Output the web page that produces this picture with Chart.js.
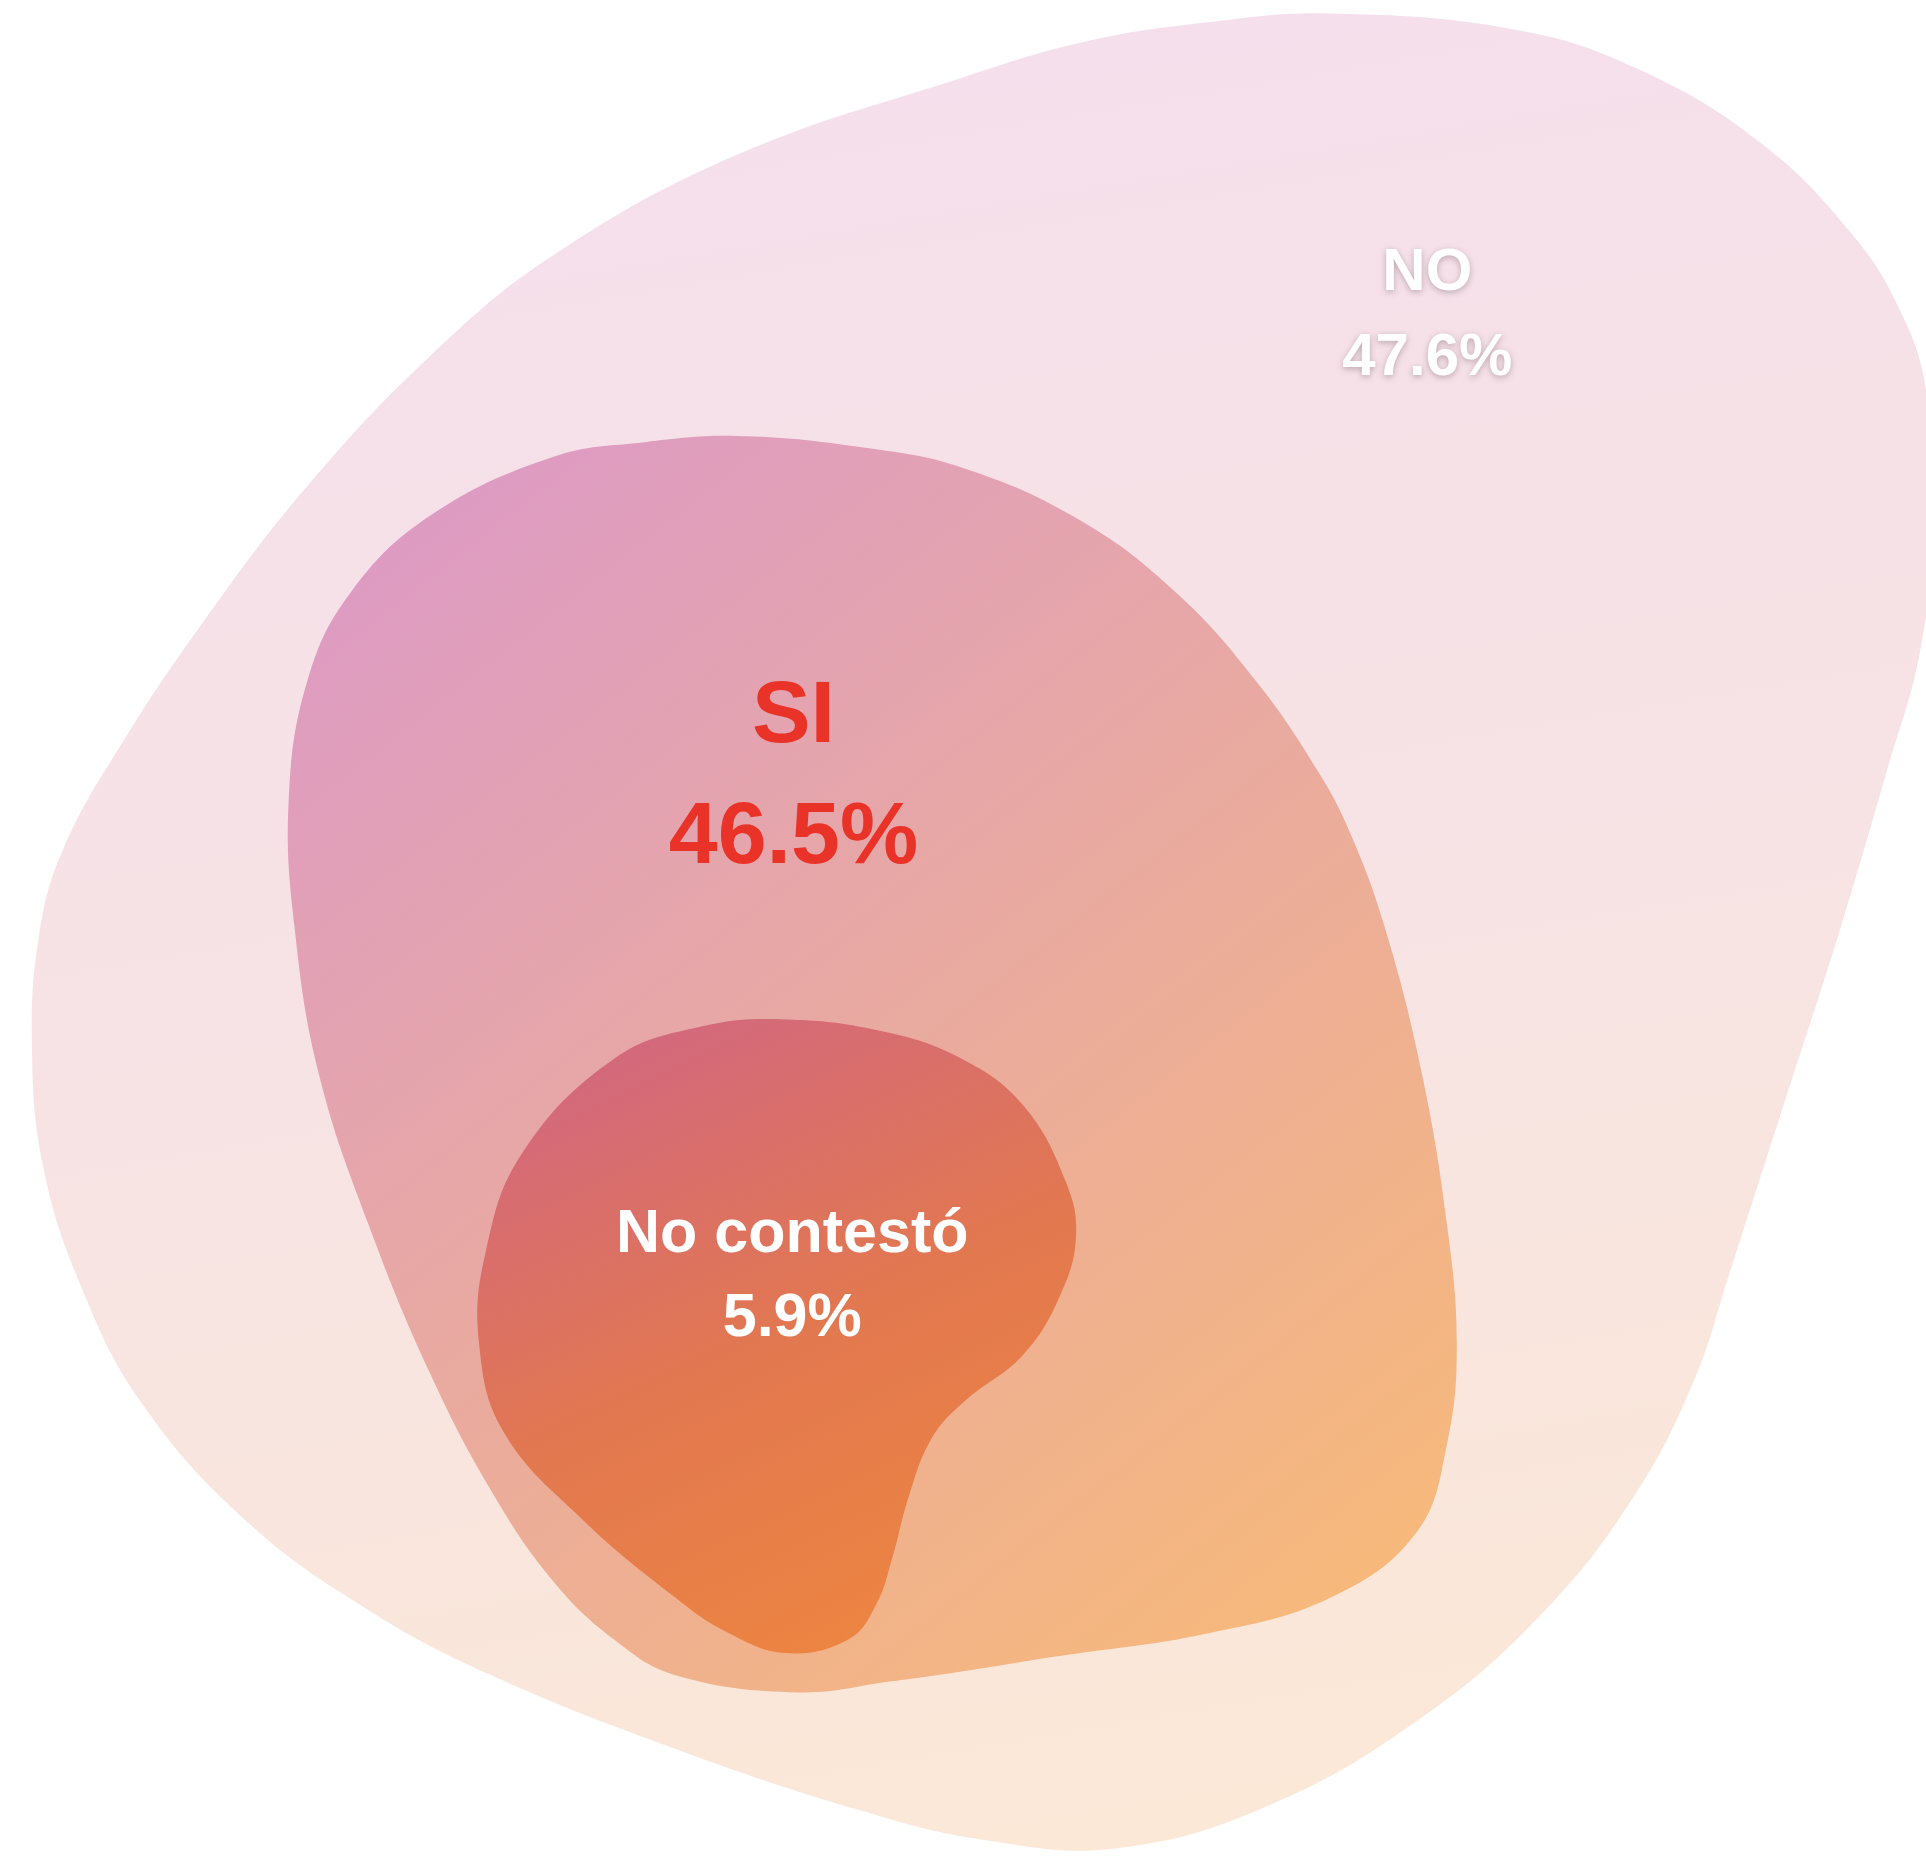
<!DOCTYPE html>
<html>
<head>
<meta charset="utf-8">
<title>SI / NO / No contestó</title>
<script src="https://cdn.jsdelivr.net/npm/chart.js@4.4.1/dist/chart.umd.min.js"></script>
<style>
  html, body { margin: 0; padding: 0; background: #ffffff; }
  #wrap { width: 1926px; height: 1857px; position: relative; }
</style>
</head>
<body>
<div id="wrap"><canvas id="blobChart"></canvas></div>
<script>
// Answers and their shares
const categories = ['NO', 'SI', 'No contestó'];
const shares = [47.6, 46.5, 5.9];

// Blob outlines, traced in a 1568 x 1512 frame (the axes use the same frame)
const outlineNo = [
    [1083, 11], [1233, 24], [1333, 56], [1433, 116], [1508, 191], [1548, 255],
    [1568, 317], [1575, 417], [1563, 531], [1536, 628], [1498, 757], [1452, 900],
    [1407, 1040], [1380, 1122], [1333, 1214], [1258, 1311], [1158, 1398], [1033, 1470],
    [908, 1505], [800, 1498], [700, 1474], [550, 1424], [400, 1364], [300, 1311],
    [200, 1238], [115, 1142], [65, 1045], [35, 949], [26, 852], [32, 760],
    [52, 690], [100, 604], [165, 507], [250, 396], [350, 290], [450, 208],
    [600, 126], [784, 63], [883, 34], [985, 18]
];
const outlineSi = [
    [600, 355], [700, 364], [784, 381], [880, 424], [958, 483], [1023, 555],
    [1073, 628], [1100, 680], [1128, 757], [1158, 876], [1178, 997], [1186, 1094],
    [1178, 1176], [1153, 1248], [1083, 1301], [983, 1330], [858, 1349], [783, 1361],
    [726, 1369], [650, 1378], [550, 1364], [500, 1335], [450, 1287], [400, 1214],
    [350, 1118], [300, 997], [260, 876], [240, 757], [235, 652], [250, 555],
    [285, 483], [350, 420], [450, 372], [525, 360]
];
const outlineNc = [
    [640, 830], [720, 840], [783, 862], [833, 900], [868, 963], [876, 1007],
    [863, 1055], [833, 1103], [784, 1142], [758, 1172], [740, 1218], [726, 1270],
    [714, 1305], [692, 1334], [640, 1346], [590, 1328], [550, 1301], [475, 1238],
    [410, 1166], [390, 1094], [395, 1021], [425, 939], [500, 862], [570, 836]
];

// Label placement: [x centre, baseline of name, baseline of share]
const labelPlace = [[1162, 236, 305], [646, 604, 703], [645, 1019, 1088]];
const labelSize = [60, 88, 61];
const labelColor = ['#ffffff', '#ea3328', '#ffffff'];

function closedLoop(points) {
    const pts = points.map(p => ({ x: p[0], y: p[1] }));
    const n = pts.length;
    // overlap the ends so the spline stays smooth where the loop closes
    return [pts[n - 2], pts[n - 1], ...pts, pts[0], pts[1]];
}

function blobFill(stops, from, to) {
    return function (context) {
        const chart = context.chart;
        if (!chart.chartArea) return stops[0];
        const xs = chart.scales.x;
        const ys = chart.scales.y;
        const g = chart.ctx.createLinearGradient(
            xs.getPixelForValue(from[0]), ys.getPixelForValue(from[1]),
            xs.getPixelForValue(to[0]), ys.getPixelForValue(to[1]));
        stops.forEach((c, i) => g.addColorStop(i / (stops.length - 1), c));
        return g;
    };
}

const blobLabels = {
    id: 'blobLabels',
    afterDatasetsDraw(chart) {
        const { ctx, scales: { x, y } } = chart;
        ctx.save();
        ctx.textAlign = 'center';
        ctx.textBaseline = 'alphabetic';
        categories.forEach((name, i) => {
            const [cx, nameY, shareY] = labelPlace[i];
            ctx.font = 'bold ' + labelSize[i] + 'px "Liberation Sans", Arial, sans-serif';
            ctx.fillStyle = labelColor[i];
            if (i === 0) {
                ctx.shadowColor = 'rgba(90, 60, 70, 0.35)';
                ctx.shadowBlur = 6;
                ctx.shadowOffsetY = 2;
            } else {
                ctx.shadowColor = 'transparent';
                ctx.shadowBlur = 0;
                ctx.shadowOffsetY = 0;
            }
            const px = x.getPixelForValue(cx);
            ctx.fillText(name, px, y.getPixelForValue(nameY));
            ctx.fillText(shares[i].toFixed(1) + '%', px, y.getPixelForValue(shareY));
        });
        ctx.restore();
    }
};

const blobStyle = {
    showLine: true,
    fill: 'shape',
    tension: 0.4,
    borderWidth: 0,
    borderColor: 'rgba(0,0,0,0)',
    pointRadius: 0,
    pointHoverRadius: 0
};

new Chart(document.getElementById('blobChart'), {
    type: 'scatter',
    data: {
        datasets: [
            Object.assign({
                label: categories[2],
                data: closedLoop(outlineNc),
                order: 1,
                backgroundColor: blobFill(['#d3687e', '#e2784f', '#ee8640'], [520, 840], [760, 1345])
            }, blobStyle),
            Object.assign({
                label: categories[1],
                data: closedLoop(outlineSi),
                order: 2,
                backgroundColor: blobFill(['#dd9ac5', '#e9aaa0', '#f7b97a'], [330, 380], [1080, 1330])
            }, blobStyle),
            Object.assign({
                label: categories[0],
                data: closedLoop(outlineNo),
                order: 3,
                backgroundColor: blobFill(['#f5dfec', '#f7e3e4', '#fbe8d6'], [800, 20], [1050, 1500])
            }, blobStyle)
        ]
    },
    options: {
        responsive: true,
        maintainAspectRatio: false,
        animation: false,
        layout: { padding: 0 },
        plugins: {
            legend: { display: false },
            tooltip: { enabled: false }
        },
        scales: {
            x: { type: 'linear', min: 0, max: 1568, display: false },
            y: { type: 'linear', min: 0, max: 1512, reverse: true, display: false }
        }
    },
    plugins: [blobLabels]
});
</script>
</body>
</html>
